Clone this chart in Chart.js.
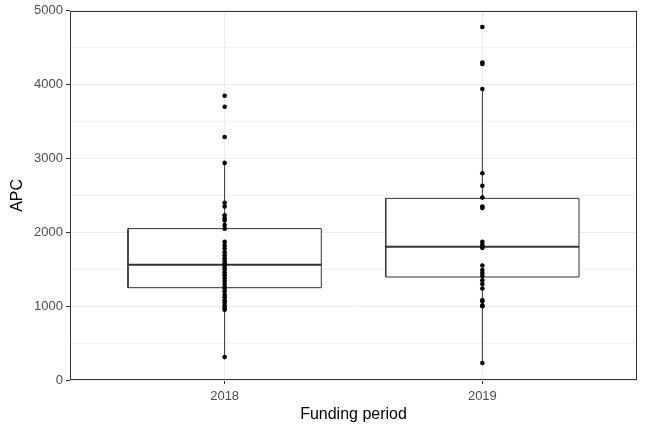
<!DOCTYPE html>
<html>
<head>
<meta charset="utf-8">
<script src="https://cdn.jsdelivr.net/npm/chart.js@4.4.0/dist/chart.umd.min.js"></script>
<style>
  html, body { margin: 0; padding: 0; background: #ffffff; }
  #wrap { width: 648px; height: 432px; }
</style>
</head>
<body>
<div id="wrap"><canvas id="apc-chart" width="648" height="432"></canvas></div>
<script>
// values
const periods = ['2018', '2019'];
const apc2018 = [310, 950, 980, 1010, 1050, 1080, 1120, 1150, 1200, 1240, 1260, 1300, 1340, 1380,
  1420, 1460, 1500, 1530, 1560, 1580, 1610, 1650, 1690, 1730, 1780, 1820, 1870, 2050, 2100,
  2160, 2190, 2230, 2350, 2400, 2940, 3290, 3700, 3850];
const apc2019 = [230, 1000, 1010, 1070, 1080, 1240, 1300, 1350, 1410, 1450, 1490, 1550, 1790,
  1800, 1830, 1870, 2330, 2350, 2470, 2630, 2800, 3940, 4280, 4300, 4780];
const whiskerLow = [310, 230];
const quartile1 = [1250, 1395];
const medians = [1560, 1805];
const quartile3 = [2050, 2460];
const whiskerHigh = [2940, 3940];
const yTicks = [0, 1000, 2000, 3000, 4000, 5000];

const halfBox = 0.375;
const lineCol = '#333333';
const fontFam = "'Liberation Sans', Arial, Helvetica, sans-serif";

const datasets = [];

periods.forEach((p, i) => {
  const x = i + 1;
  // whiskers
  datasets.push({
    type: 'line', order: 5, data: [{ x: x, y: whiskerLow[i] }, { x: x, y: quartile1[i] }],
    borderColor: lineCol, borderWidth: 1, pointRadius: 0, fill: false
  });
  datasets.push({
    type: 'line', order: 5, data: [{ x: x, y: quartile3[i] }, { x: x, y: whiskerHigh[i] }],
    borderColor: lineCol, borderWidth: 1, pointRadius: 0, fill: false
  });
  // box
  datasets.push({
    type: 'line', order: 4,
    data: [
      { x: x - halfBox, y: quartile1[i] }, { x: x + halfBox, y: quartile1[i] },
      { x: x + halfBox, y: quartile3[i] }, { x: x - halfBox, y: quartile3[i] },
      { x: x - halfBox, y: quartile1[i] }
    ],
    borderColor: lineCol, borderWidth: 1, pointRadius: 0,
    fill: 'shape', backgroundColor: '#ffffff'
  });
  // median
  datasets.push({
    type: 'line', order: 3,
    data: [{ x: x - halfBox, y: medians[i] }, { x: x + halfBox, y: medians[i] }],
    borderColor: lineCol, borderWidth: 2, pointRadius: 0, fill: false
  });
});

// the points on top
[apc2018, apc2019].forEach((vals, i) => {
  datasets.push({
    type: 'scatter', order: 1,
    data: vals.map(v => ({ x: i + 1, y: v })),
    backgroundColor: '#000000', borderWidth: 0, pointRadius: 2.3
  });
});

const panelBorder = {
  id: 'panelBorder',
  afterDraw(chart) {
    const a = chart.chartArea;
    const ctx = chart.ctx;
    ctx.save();
    ctx.strokeStyle = lineCol;
    ctx.lineWidth = 1;
    ctx.strokeRect(Math.round(a.left) + 0.5, Math.round(a.top) + 0.5,
      Math.round(a.right - a.left) - 1, Math.round(a.bottom - a.top) - 1);
    ctx.restore();
  }
};

new Chart(document.getElementById('apc-chart').getContext('2d'), {
  type: 'scatter',
  data: { datasets: datasets },
  plugins: [panelBorder],
  options: {
    responsive: false,
    animation: false,
    layout: { padding: { left: 0, right: 11, top: 8, bottom: 0 } },
    plugins: { legend: { display: false }, tooltip: { enabled: false } },
    scales: {
      x: {
        type: 'linear', min: 0.4, max: 2.6,
        afterBuildTicks: scale => { scale.ticks = periods.map((p, i) => ({ value: i + 1 })); },
        afterFit: scale => { scale.height = 52; },
        ticks: {
          callback: (v) => periods[Math.round(v) - 1] || '',
          color: '#4d4d4d', font: { family: fontFam, size: 13 }, padding: 5
        },
        grid: { color: '#ebebeb', lineWidth: 1, tickLength: 4, tickColor: lineCol },
        border: { display: false },
        title: {
          display: true, text: 'Funding period', color: '#000000',
          font: { family: fontFam, size: 16 }, padding: { top: 0, bottom: 8 }
        }
      },
      y: {
        min: 0, max: 5000,
        afterBuildTicks: scale => {
          const t = [];
          for (let v = 0; v <= 5000; v += 500) t.push({ value: v });
          scale.ticks = t;
        },
        afterFit: scale => { scale.width = 70; },
        ticks: {
          callback: v => (yTicks.includes(v) ? String(v) : ''),
          color: '#4d4d4d', font: { family: fontFam, size: 13 }, padding: 3
        },
        grid: {
          color: '#ebebeb',
          lineWidth: c => (c.tick && yTicks.includes(c.tick.value) ? 1 : 0.6),
          tickLength: 4,
          tickColor: c => (c.tick && yTicks.includes(c.tick.value) ? lineCol : 'rgba(0,0,0,0)')
        },
        border: { display: false },
        title: {
          display: true, text: 'APC', color: '#000000',
          font: { family: fontFam, size: 16 }, padding: { top: 8, bottom: 0 }
        }
      }
    }
  }
});
</script>
</body>
</html>
